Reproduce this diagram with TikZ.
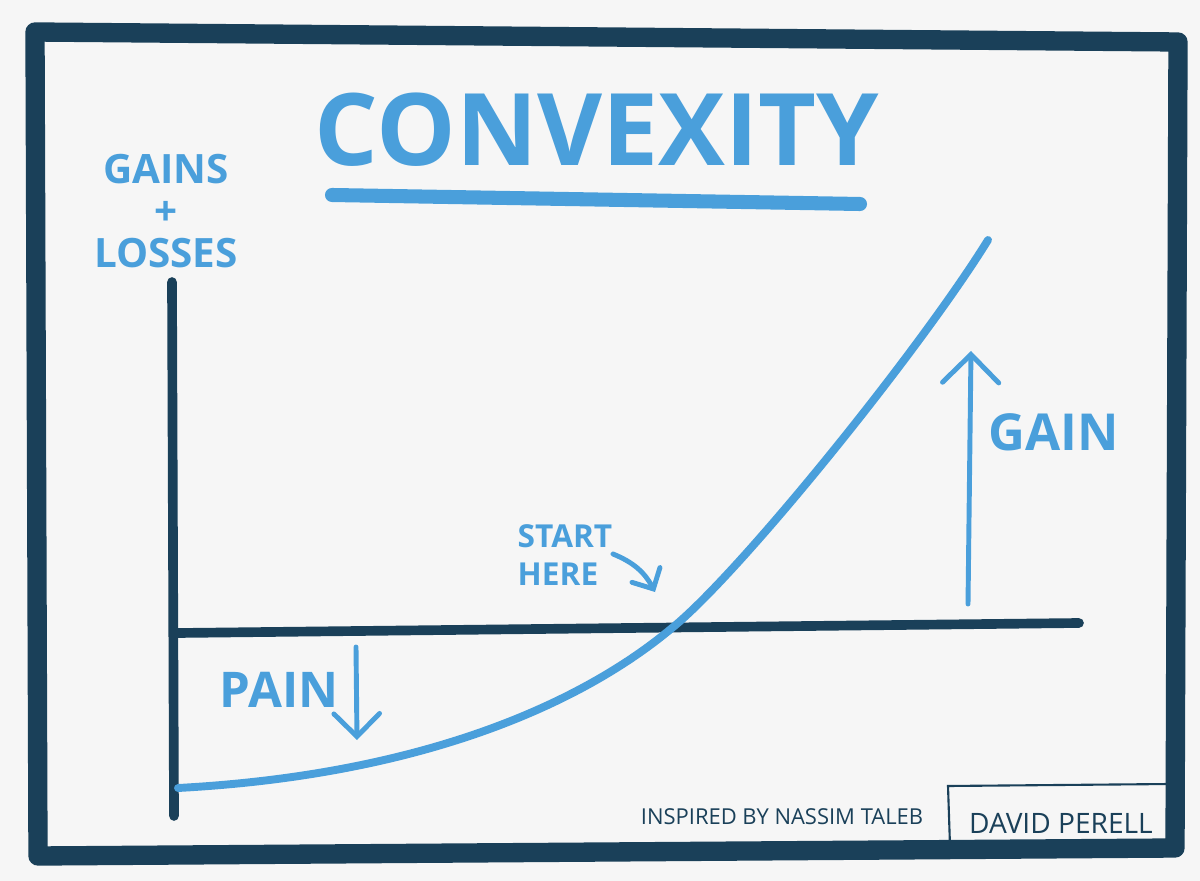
\documentclass[tikz,border=0pt]{standalone}
\usepackage{fontspec}
\setmainfont{Open Sans}
\usetikzlibrary{positioning,arrows.meta}

\definecolor{inkblue}{HTML}{4A9FDB}
\definecolor{inkdark}{HTML}{1A4059}
\definecolor{paper}{HTML}{F6F6F6}

\tikzset{
  pen/.style={inkblue, line width=4.5pt, line cap=round, line join=round},
  thinpen/.style={inkblue, line width=2.8pt, line cap=round, line join=round},
  frame/.style={inkdark, line width=11pt, line cap=round, line join=round},
  axis/.style={inkdark, line width=5.5pt, line cap=round},
  hand/.style={text=inkblue, inner sep=0pt, font=\bfseries},
  barb/.style={-{Straight Barb[length=#1, width=2*#1, line cap=round]}}
}

\begin{document}
\begin{tikzpicture}[x=0.02cm, y=-0.02cm]
  \fill[paper] (0,0) rectangle (1200,881);
  \useasboundingbox (0,0) rectangle (1200,881);

  % frame
  \draw[frame] (35,32) -- (1178,42) -- (1175,848) -- (38,856) -- cycle;

  % title
  \node[hand, font=\bfseries\fontsize{57}{57}\selectfont] (title) at (597,130) {CONVEXITY};
  \draw[inkblue, line width=8pt, line cap=round] (332,195) -- (860,204);

  % axes
  \coordinate (ytop) at (172,282);
  \coordinate (ybot) at (174,816);
  \coordinate (xl) at (178,633);
  \coordinate (xr) at (1079,623);
  \draw[axis] (ytop) -- (ybot);
  \draw[axis] (xl) -- (xr);

  \node[hand, align=center, font=\bfseries\fontsize{23}{30}\selectfont] (ylabel) at (166,211)
    {GAINS\\[-6pt]+\\[-6pt]LOSSES};

  % the convex curve
  \coordinate (c0) at (178,788);
  \coordinate (c1) at (672,628);
  \coordinate (c2) at (988,240);
  \draw[pen] (c0) .. controls (420,775) and (580,705) .. (c1)
                  .. controls (740,573) and (920,350) .. (c2);

  % gain
  \coordinate (gbot) at (968,604);
  \coordinate (gtop) at (971,351);
  \draw[thinpen, barb=16pt] (gbot) -- (gtop);
  \node[hand, font=\bfseries\fontsize{29}{29}\selectfont] (gain) at (1054,432) {GAIN};

  % pain
  \node[hand, font=\bfseries\fontsize{28}{28}\selectfont] (pain) at (279,690) {PAIN};
  \coordinate (ptop) at (356,647);
  \coordinate (pbot) at (357,740);
  \draw[thinpen, barb=13pt] (ptop) -- (pbot);

  % start here
  \node[hand, align=left, font=\bfseries\fontsize{18}{22}\selectfont] (start) at (565,555)
    {START\\HERE};
  \coordinate (sa) at (613,554);
  \coordinate (sb) at (655,592);
  \draw[thinpen, barb=9pt] (sa) to[bend left=20] (sb);

  % credits
  \node[text=inkdark, font=\fontsize{12.5}{12}\selectfont] (inspired) at (782,817)
    {INSPIRED BY NASSIM TALEB};
  \draw[inkdark, line width=1.2pt] (950,846) -- (948,786) -- (1170,784);
  \node[text=inkdark, font=\fontsize{16}{16}\selectfont] (author) at (1061,823) {DAVID PERELL};
\end{tikzpicture}
\end{document}
